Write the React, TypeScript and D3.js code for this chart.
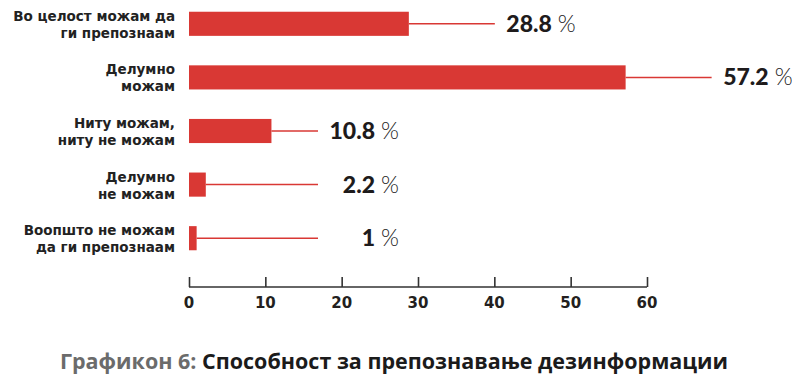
import React, { useEffect, useRef } from 'react';
import * as d3 from 'd3';

const categories = [
  ['Во целост можам да', 'ги препознаам'],
  ['Делумно', 'можам'],
  ['Ниту можам,', 'ниту не можам'],
  ['Делумно', 'не можам'],
  ['Воопшто не можам', 'да ги препознаам'],
];
const values = [28.8, 57.2, 10.8, 2.2, 1];
const ticks = [0, 10, 20, 30, 40, 50, 60];

const RED = '#d93834';

export default function App() {
  const ref = useRef<SVGSVGElement>(null);

  useEffect(() => {
    const svg = d3.select(ref.current);
    svg.selectAll('*').remove();

    const x = d3.scaleLinear().domain([0, 60]).range([189, 647]);
    const y = d3
      .scaleBand<number>()
      .domain(d3.range(values.length))
      .range([-3, 265])
      .paddingInner(0.55)
      .paddingOuter(0.275);

    const rows = svg
      .append('g')
      .selectAll('g')
      .data(values)
      .join('g')
      .attr('transform', (d, i) => `translate(0, ${y(i)! + y.bandwidth() / 2})`);

    // line end: long bars push labels right, short ones share a column
    const lineEnd = (v: number) => (v > 20 ? x(v) + 86 : 318);

    rows
      .append('line')
      .attr('x1', (d) => x(d))
      .attr('x2', (d) => lineEnd(d))
      .attr('stroke', RED)
      .attr('stroke-width', 1.5);

    rows
      .append('rect')
      .attr('x', x(0))
      .attr('y', -y.bandwidth() / 2)
      .attr('width', (d) => x(d) - x(0))
      .attr('height', y.bandwidth())
      .attr('fill', RED);

    rows
      .append('text')
      .attr('x', (d) => lineEnd(d) + 57)
      .attr('y', 8)
      .attr('text-anchor', 'end')
      .attr('font-family', 'Lato, sans-serif')
      .attr('font-weight', 900)
      .attr('font-size', 23)
      .attr('fill', '#1e1b1c')
      .text((d) => d);

    rows
      .append('text')
      .attr('x', (d) => lineEnd(d) + 63)
      .attr('y', 8)
      .attr('font-family', 'Lato, sans-serif')
      .attr('font-weight', 300)
      .attr('font-size', 23)
      .attr('fill', '#222')
      .text('%');

    // category labels, two lines each
    categories.forEach((lines, i) => {
      const cy = y(i)! + y.bandwidth() / 2;
      lines.forEach((t, j) => {
        svg
          .append('text')
          .attr('x', 175)
          .attr('y', cy + (j === 0 ? -3 : 14))
          .attr('text-anchor', 'end')
          .attr('font-family', '"DejaVu Sans", sans-serif')
          .attr('font-weight', 700)
          .attr('font-size', 13.5)
          .attr('fill', '#222')
          .text(t);
      });
    });

    // x axis
    const axis = svg.append('g').attr('transform', 'translate(0, 287)');
    axis
      .call(d3.axisTop(x).tickValues(ticks).tickSize(10).tickFormat(() => ''))
      .call((g) => g.select('.domain').attr('d', `M${x(0)},0H${x(60)}`))
      .selectAll('path, line')
      .attr('stroke', '#333')
      .attr('stroke-width', 1.6);

    axis
      .selectAll('text.lbl')
      .data(ticks)
      .join('text')
      .attr('class', 'lbl')
      .attr('x', (d) => x(d))
      .attr('y', 21)
      .attr('text-anchor', 'middle')
      .attr('font-family', '"DejaVu Sans", sans-serif')
      .attr('font-weight', 700)
      .attr('font-size', 15)
      .attr('fill', '#231f20')
      .text((d) => d);

    // caption
    const cap = svg
      .append('text')
      .attr('x', 394)
      .attr('y', 369)
      .attr('text-anchor', 'middle')
      .attr('font-family', '"Open Sans", sans-serif')
      .attr('font-weight', 700)
      .attr('font-size', 21.5);
    cap.append('tspan').attr('fill', '#6b6b6b').text('Графикон 6: ');
    cap.append('tspan').attr('fill', '#1b1b1b').text('Способност за препознавање дезинформации');
  }, []);

  return (
    <svg
      ref={ref}
      width={792}
      height={386}
      style={{ position: 'absolute', left: 0, top: 0, background: '#fff' }}
    />
  );
}
